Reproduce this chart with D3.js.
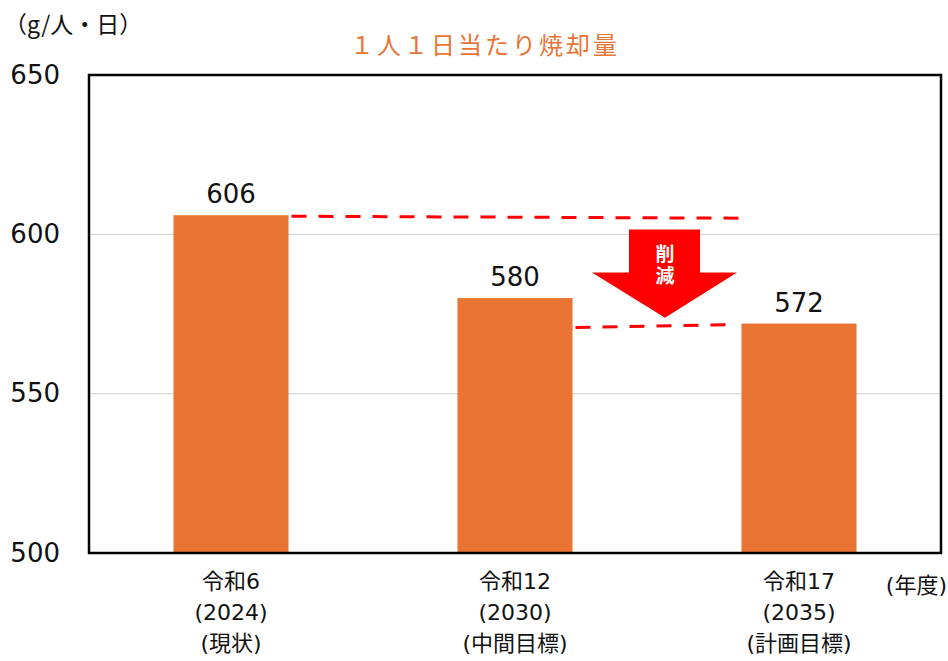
<!DOCTYPE html>
<html lang="ja">
<head>
<meta charset="UTF-8">
<title>1人1日当たり焼却量</title>
<style>
  body { margin: 0; background: #fff; }
  svg { display: block; font-family: "DejaVu Sans", "Noto Sans CJK JP", sans-serif; }
</style>
</head>
<body>
<script src="https://cdn.jsdelivr.net/npm/d3@7"></script>
<script>
const W = 948, H = 661;

// données
const categories = ["令和6", "令和12", "令和17"];
const years = ["(2024)", "(2030)", "(2035)"];
const notes = ["(現状)", "(中間目標)", "(計画目標)"];
const values = [606, 580, 572];
const yTicks = [500, 550, 600, 650];

const margin = { left: 89, right: 7, top: 75, bottom: 108 };

const svg = d3.select("body").append("svg")
  .attr("width", W)
  .attr("height", H);

const x = d3.scaleBand()
  .domain(categories)
  .range([margin.left, W - margin.right])
  .paddingInner(0.595)
  .paddingOuter(0.2975);

const y = d3.scaleLinear()
  .domain([500, 650])
  .range([H - margin.bottom, margin.top]);

// grille
svg.append("g")
  .selectAll("line")
  .data(yTicks.filter(t => t > 500 && t < 650))
  .join("line")
    .attr("x1", margin.left)
    .attr("x2", W - margin.right)
    .attr("y1", d => y(d))
    .attr("y2", d => y(d))
    .attr("stroke", "#d9d9d9")
    .attr("stroke-width", 1.3);

// axe y (texte seulement)
const yAxis = svg.append("g")
  .attr("transform", `translate(${margin.left - 29},0)`)
  .call(d3.axisLeft(y).tickValues(yTicks).tickSize(0).tickPadding(0));
yAxis.select(".domain").remove();
yAxis.selectAll("text")
  .attr("font-size", 26)
  .attr("fill", "#111")
  .attr("font-family", "'DejaVu Sans', sans-serif");

// barres
svg.append("g")
  .selectAll("rect")
  .data(values)
  .join("rect")
    .attr("x", (d, i) => x(categories[i]))
    .attr("y", d => y(d))
    .attr("width", x.bandwidth())
    .attr("height", d => y(500) - y(d))
    .attr("fill", "#EA7434");

// étiquettes des valeurs
svg.append("g")
  .selectAll("text")
  .data(values)
  .join("text")
    .attr("x", (d, i) => x(categories[i]) + x.bandwidth() / 2)
    .attr("y", d => y(d) - 12)
    .attr("text-anchor", "middle")
    .attr("font-size", 26)
    .attr("fill", "#111")
    .text(d => d);

// cadre
svg.append("rect")
  .attr("x", margin.left)
  .attr("y", margin.top)
  .attr("width", W - margin.right - margin.left)
  .attr("height", H - margin.bottom - margin.top)
  .attr("fill", "none")
  .attr("stroke", "#000")
  .attr("stroke-width", 2.5);

// lignes pointillées
const b1r = x(categories[0]) + x.bandwidth();
const b2r = x(categories[1]) + x.bandwidth();
const b3l = x(categories[2]);
const dash = [
  [b1r + 3, y(values[0]) + 1, b3l + 2, y(values[0]) + 3],
  [b2r + 3, y(values[2]) + 4, b3l - 8, y(values[2]) + 1]
];
svg.append("g")
  .selectAll("line")
  .data(dash)
  .join("line")
    .attr("x1", d => d[0]).attr("y1", d => d[1])
    .attr("x2", d => d[2]).attr("y2", d => d[3])
    .attr("stroke", "#FF0000")
    .attr("stroke-width", 3)
    .attr("stroke-dasharray", "15,12");

// flèche "削減"
const ax = (b2r + b3l) / 2 + 8;
const aTop = y(601.5), aNeck = y(588), aTip = y(573.8);
svg.append("path")
  .attr("d", `M${ax - 36},${aTop} L${ax + 35},${aTop} L${ax + 35},${aNeck} L${ax + 72},${aNeck}
              L${ax},${aTip} L${ax - 73},${aNeck} L${ax - 36},${aNeck} Z`)
  .attr("fill", "#FF0000");
svg.append("text")
  .attr("x", ax)
  .attr("y", aTop + 15)
  .style("writing-mode", "vertical-rl")
  .attr("font-size", 19)
  .attr("letter-spacing", 3)
  .attr("font-weight", "bold")
  .attr("font-family", "'Noto Sans CJK JP', sans-serif")
  .attr("fill", "#fff")
  .text("削減");

// titre
svg.append("text")
  .attr("x", 485)
  .attr("y", 54)
  .attr("text-anchor", "middle")
  .attr("font-size", 24)
  .attr("letter-spacing", 3)
  .attr("font-family", "'Noto Sans CJK JP', sans-serif")
  .attr("fill", "#EA7434")
  .text("１人１日当たり焼却量");

// unité
svg.append("text")
  .attr("x", 4)
  .attr("y", 33)
  .attr("font-size", 23)
  .attr("font-family", "'Noto Sans CJK JP', sans-serif")
  .attr("fill", "#111")
  .text("（g/人・日）");

// étiquettes x
const xl = svg.append("g")
  .selectAll("text")
  .data(categories)
  .join("text")
    .attr("x", d => x(d) + x.bandwidth() / 2)
    .attr("text-anchor", "middle")
    .attr("font-size", 22)
    .attr("fill", "#111");
xl.append("tspan").attr("x", d => x(d) + x.bandwidth() / 2).attr("y", 589).text(d => d);
xl.append("tspan").attr("x", d => x(d) + x.bandwidth() / 2).attr("y", 620).text((d, i) => years[i]);
xl.append("tspan").attr("x", d => x(d) + x.bandwidth() / 2).attr("y", 651).text((d, i) => notes[i]);

svg.append("text")
  .attr("x", 947)
  .attr("y", 593)
  .attr("text-anchor", "end")
  .attr("font-size", 22)
  .attr("fill", "#111")
  .text("(年度)");
</script>
</body>
</html>
